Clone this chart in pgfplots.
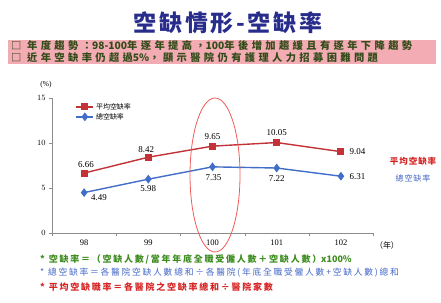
\documentclass[border=0pt]{standalone}
\usepackage{fontspec}
\usepackage{pgfplots}
\pgfplotsset{compat=1.18}
\setmainfont{Liberation Serif}
\newfontfamily\cjk{Noto Sans CJK TC}
\newfontfamily\cjksp{Noto Sans CJK TC}[LetterSpace=12]
\newfontfamily\cjkbox{Noto Sans CJK TC}[LetterSpace=33]
\newfontfamily\cjkfoot{Noto Sans CJK TC}[LetterSpace=20]
\definecolor{titleblue}{RGB}{40,45,140}
\definecolor{pinkbox}{RGB}{243,172,180}
\definecolor{boxtext}{RGB}{50,75,25}
\definecolor{redline}{RGB}{195,50,55}
\definecolor{blueline}{RGB}{65,110,200}
\definecolor{ellred}{RGB}{240,90,90}
\definecolor{fgreen}{RGB}{60,140,30}
\definecolor{fblue}{RGB}{70,105,200}
\definecolor{fred}{RGB}{215,35,35}
\begin{document}
\begin{tikzpicture}[x=1bp,y=1bp]
\fill[white] (0,0) rectangle (441,302);
% title
\node[font=\cjksp\bfseries\fontsize{23}{23}\selectfont, text=titleblue] at (228,279) {空缺情形-空缺率};
% pink box
\fill[pinkbox] (8,238) rectangle (436,262);
\node[anchor=west, inner sep=0, font=\cjkbox\bfseries\fontsize{10.3}{11}\selectfont, text=boxtext] at (11,256) {□ 年度趨勢：{\cjk\bfseries 98-100}年逐年提高，{\cjk\bfseries 100}年後增加趨緩且有逐年下降趨勢};
\node[anchor=west, inner sep=0, font=\cjkbox\bfseries\fontsize{10.3}{11}\selectfont, text=boxtext] at (11,244) {□ 近年空缺率仍超過{\cjk\bfseries 5\%}，顯示醫院仍有護理人力招募困難問題};
\begin{axis}[
  at={(52bp,69bp)}, anchor=south west,
  scale only axis, width=321bp, height=135bp,
  xmin=-0.5, xmax=4.5, ymin=0, ymax=15,
  axis x line*=bottom, axis y line*=left,
  axis line style={black!45, -},
  xtick={0,1,2,3,4}, xticklabels={98,99,100,101,102},
  major x tick style={draw=none},
  minor xtick={-0.5,0.5,1.5,2.5,3.5,4.5},
  minor x tick style={black!45},
  minor tick length=3pt,
  ytick={0,5,10,15},
  major tick length=3pt,
  y tick style={black!45},
  tick align=outside,
  ticklabel style={font=\fontsize{8.5}{9}\selectfont},
  legend style={at={(0.07,0.985)}, anchor=north west, draw=none, fill=none,
     font=\cjk\fontsize{7}{7.5}\selectfont, row sep=-1.5pt, inner sep=1pt},
  legend cell align=left,
  clip=false,
]
\addplot[color=redline, line width=1.4pt, mark=square*, mark size=2.8pt,
  mark options={solid},
  nodes near coords, point meta=explicit symbolic,
  visualization depends on={value \thisrow{a} \as \anc},
  visualization depends on={\thisrow{dx} \as \dx},
  visualization depends on={\thisrow{dy} \as \dy},
  every node near coord/.append style={anchor=\anc, xshift=\dx, yshift=\dy,
     font=\fontsize{9}{9}\selectfont, text=black, inner sep=1pt}]
table[meta=lbl]{
x y lbl a dx dy
0 6.66 6.66 south 2 4
1 8.42 8.42 south -2 3
2 9.65 9.65 south 0 5
3 10.05 10.05 south 0 5
4 9.04 9.04 west 7 0
};
\addlegendentry{平均空缺率}
\addplot[color=blueline, line width=1.4pt, mark=diamond*, mark size=3.3pt,
  nodes near coords, point meta=explicit symbolic,
  visualization depends on={value \thisrow{a} \as \anc},
  visualization depends on={\thisrow{dx} \as \dx},
  visualization depends on={\thisrow{dy} \as \dy},
  every node near coord/.append style={anchor=\anc, xshift=\dx, yshift=\dy,
     font=\fontsize{9}{9}\selectfont, text=black, inner sep=1pt}]
table[meta=lbl]{
x y lbl a dx dy
0 4.49 4.49 north 15 0
1 5.98 5.98 north 0 -5
2 7.35 7.35 north 1 -6
3 7.22 7.22 north 0 -6
4 6.31 6.31 west 7 0
};
\addlegendentry{總空缺率}
\end{axis}
\draw[ellred, line width=0.8pt] (215,127) ellipse [x radius=25, y radius=77];
\node[font=\fontsize{7.5}{8}\selectfont] at (46,217) {(\%)};
\node[font=\cjk\fontsize{8}{8}\selectfont] at (387,57) {（年）};
\node[font=\cjksp\bfseries\fontsize{8.5}{9}\selectfont, text=fred] at (413,141) {平均空缺率};
\node[font=\cjksp\fontsize{8}{9}\selectfont, text=fblue] at (413,124) {總空缺率};
% footnotes
\node[anchor=west, inner sep=0, font=\cjkfoot\bfseries\fontsize{9}{9}\selectfont, text=fgreen] at (40,43) {* 空缺率＝（空缺人數/當年年底全職受僱人數＋空缺人數）{\cjk\bfseries x100\%}};
\node[anchor=west, inner sep=0, font=\cjkfoot\fontsize{8.8}{9}\selectfont, text=fblue] at (40,29) {* 總空缺率＝各醫院空缺人數總和÷各醫院(年底全職受僱人數+空缺人數)總和};
\node[anchor=west, inner sep=0, font=\cjkfoot\bfseries\fontsize{9}{9}\selectfont, text=fred] at (40,15) {* 平均空缺職率＝各醫院之空缺率總和÷醫院家數};
\end{tikzpicture}
\end{document}
